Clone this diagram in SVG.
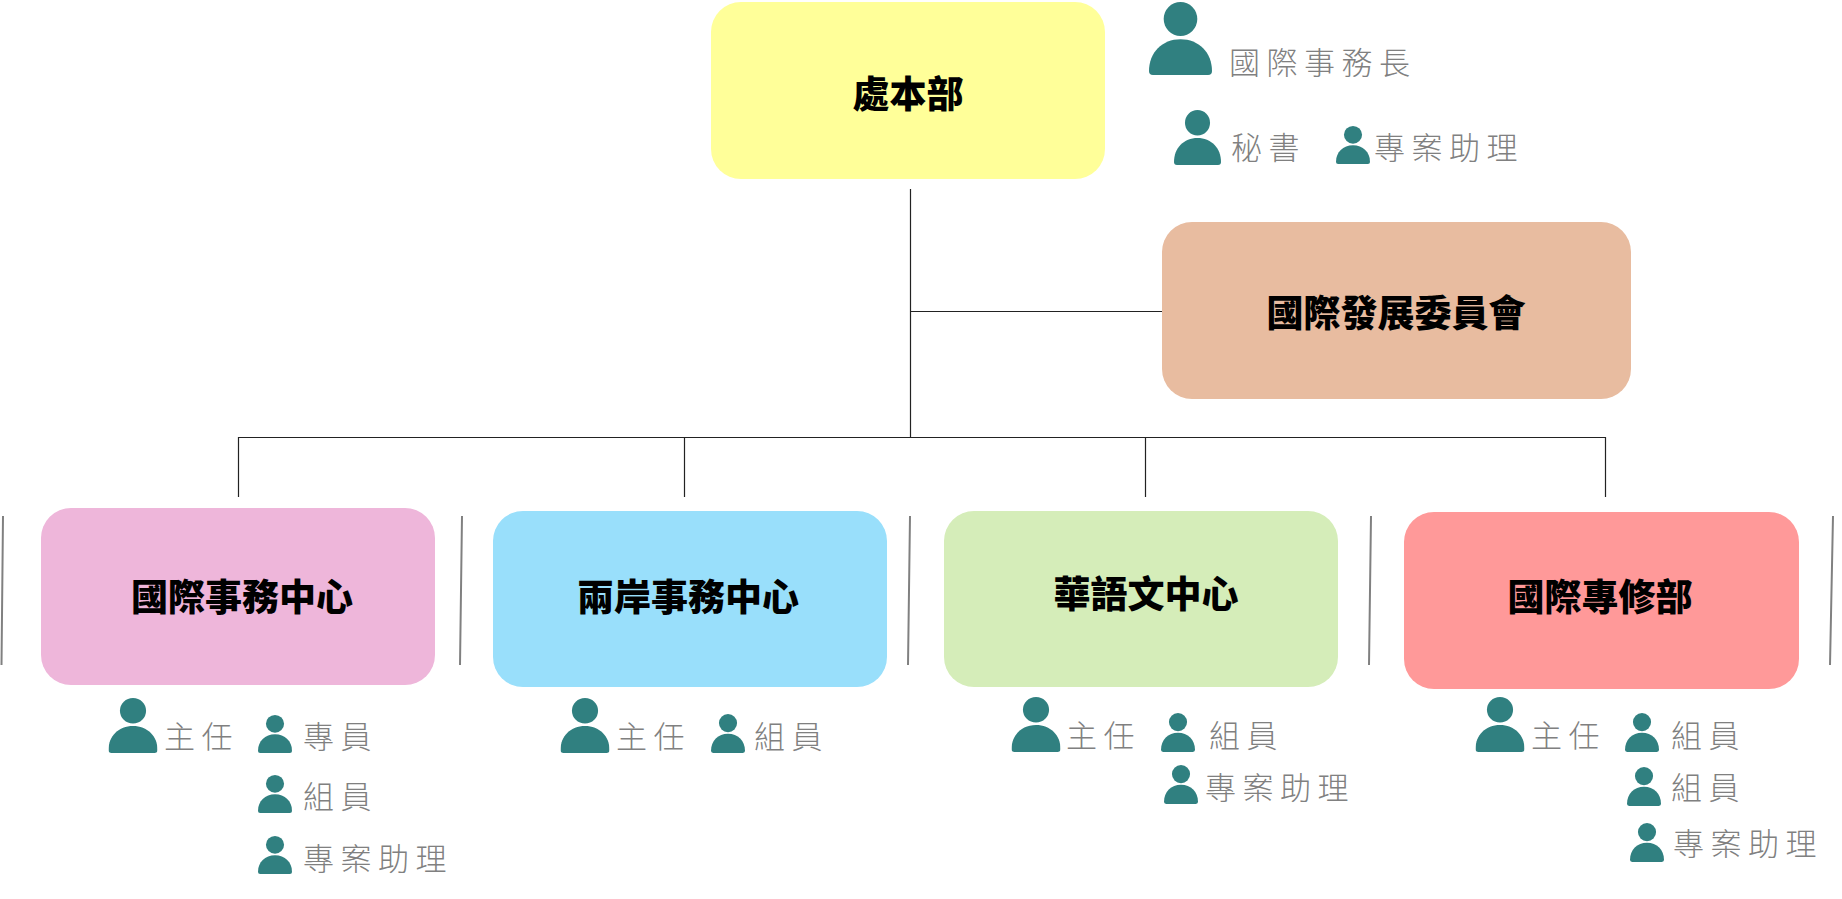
<svg xmlns="http://www.w3.org/2000/svg" width="1842" height="899" viewBox="0 0 1842 899">
<style>
.box{stroke:none}
.t{font-family:"Noto Sans CJK TC","Noto Sans CJK SC",sans-serif;font-weight:900;font-size:37px;fill:#000;dominant-baseline:central;text-anchor:middle}
.l{font-family:"Noto Sans CJK TC","Noto Sans CJK SC",sans-serif;font-weight:300;font-size:31px;fill:#808080;letter-spacing:6.500px;dominant-baseline:central}
.c{stroke:#222;stroke-width:1.200;fill:none}
.s{stroke:#808080;stroke-width:2;fill:none}
</style>
<defs>
<symbol id="p" viewBox="0 0 48 55" preserveAspectRatio="none"><circle cx="24" cy="12.800" r="12.800" fill="#308080"/><path d="M0 52C0 38 10 28 24 28C38 28 48 38 48 52Q48 55 45 55H3Q0 55 0 52Z" fill="#308080"/></symbol>
</defs>
<g id="connectors">
<path class="c" d="M910.500 189V437.500M910.500 311.500H1162M238.500 497V437.500H1605.500V497M684.500 437.500V497M1145.500 437.500V497"/>
<path class="s" d="M3 516L1.500 665M462 516L460 665M910 516L908 665M1371 516L1369 665M1833 516L1830 665"/>
</g>
<g id="hq"><rect class="box" x="711" y="2" width="394" height="177" rx="30" fill="#ffff99"/><text class="t" x="908" y="92">處本部</text></g>
<g id="committee"><rect class="box" x="1162" y="222" width="469" height="177" rx="30" fill="#e8bca0"/><text class="t" x="1396" y="311">國際發展委員會</text></g>
<g id="intl"><rect class="box" x="41" y="508" width="394" height="177" rx="30" fill="#eeb6da"/><text class="t" x="242" y="595">國際事務中心</text></g>
<g id="cross"><rect class="box" x="493" y="511" width="394" height="176" rx="30" fill="#99dffb"/><text class="t" x="688" y="595">兩岸事務中心</text></g>
<g id="chinese"><rect class="box" x="944" y="511" width="394" height="176" rx="30" fill="#d5edb9"/><text class="t" x="1146" y="592">華語文中心</text></g>
<g id="prof"><rect class="box" x="1404" y="512" width="395" height="177" rx="30" fill="#ff9999"/><text class="t" x="1600" y="595">國際專修部</text></g>
<g id="staff-hq">
<use href="#p" x="1149" y="2" width="63" height="73"/><text class="l" x="1229" y="60">國際事務長</text>
<use href="#p" x="1174" y="110" width="47" height="55"/><text class="l" x="1231" y="145">秘書</text>
<use href="#p" x="1336" y="126" width="34" height="38"/><text class="l" x="1374" y="145">專案助理</text>
</g>
<g id="staff-intl">
<use href="#p" x="108.500" y="698" width="49" height="55"/><text class="l" x="164" y="734">主任</text>
<use href="#p" x="258" y="715" width="34" height="38"/><text class="l" x="303" y="734">專員</text>
<use href="#p" x="258" y="775" width="34" height="38"/><text class="l" x="303" y="794">組員</text>
<use href="#p" x="258" y="836" width="34" height="38"/><text class="l" x="303" y="856">專案助理</text>
</g>
<g id="staff-cross">
<use href="#p" x="560.500" y="698" width="49" height="55"/><text class="l" x="616" y="734">主任</text>
<use href="#p" x="711" y="714" width="34" height="39"/><text class="l" x="754" y="734">組員</text>
</g>
<g id="staff-chinese">
<use href="#p" x="1011.500" y="697" width="49" height="55"/><text class="l" x="1066" y="733">主任</text>
<use href="#p" x="1161" y="713" width="34" height="39"/><text class="l" x="1209" y="733">組員</text>
<use href="#p" x="1164" y="765" width="34" height="39"/><text class="l" x="1205" y="785">專案助理</text>
</g>
<g id="staff-prof">
<use href="#p" x="1475.500" y="697" width="49" height="55"/><text class="l" x="1531" y="733">主任</text>
<use href="#p" x="1625" y="713" width="34" height="39"/><text class="l" x="1671" y="733">組員</text>
<use href="#p" x="1627" y="767" width="34" height="39"/><text class="l" x="1671" y="785">組員</text>
<use href="#p" x="1630" y="823" width="34" height="39"/><text class="l" x="1673" y="841">專案助理</text>
</g>
</svg>
